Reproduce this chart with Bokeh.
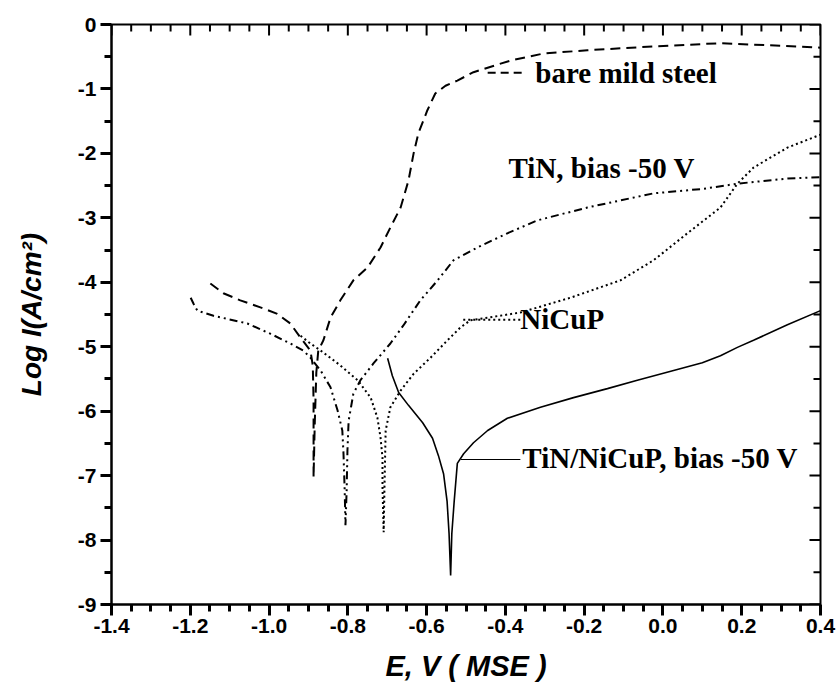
from bokeh.plotting import figure
from bokeh.models import (FixedTicker, PrintfTickFormatter, Range1d, ColumnDataSource,
                          LabelSet)
from bokeh.embed import file_html
from bokeh.resources import INLINE

# ---- data ----
x_ticks = [-1.4, -1.2, -1.0, -0.8, -0.6, -0.4, -0.2, 0.0, 0.2, 0.4]
y_ticks = [0, -1, -2, -3, -4, -5, -6, -7, -8, -9]
x_minor_per = 4   # minor divisions between x majors
y_minor_per = 2

steel_E = [-1.149, -1.116, -1.073, -1.022, -0.979, -0.946, -0.920, -0.895, -0.889, -0.887,
           -0.887, -0.887, -0.884, -0.880, -0.875, -0.862, -0.844, -0.819, -0.786, -0.750,
           -0.717, -0.692, -0.666, -0.646, -0.633, -0.621, -0.598, -0.578, -0.552, -0.522,
           -0.481, -0.445, -0.387, -0.303, -0.192, -0.024, 0.146, 0.298, 0.400]
steel_L = [-4.02, -4.17, -4.28, -4.39, -4.49, -4.64, -4.86, -5.06, -5.29, -5.83,
           -6.46, -7.03, -6.20, -5.40, -5.06, -4.90, -4.55, -4.28, -3.97, -3.77,
           -3.46, -3.15, -2.84, -2.42, -2.00, -1.69, -1.33, -1.07, -0.95, -0.87,
           -0.74, -0.67, -0.56, -0.45, -0.40, -0.34, -0.29, -0.33, -0.36]

tin_E = [-1.199, -1.192, -1.182, -1.141, -1.055, -0.996, -0.946, -0.913, -0.895, -0.869,
         -0.844, -0.826, -0.814, -0.811, -0.808, -0.806, -0.803, -0.801, -0.798, -0.786,
         -0.768, -0.735, -0.692, -0.659, -0.616, -0.572, -0.532, -0.471, -0.395, -0.319,
         -0.192, -0.024, 0.103, 0.189, 0.316, 0.400]
tin_L = [-4.24, -4.33, -4.44, -4.52, -4.64, -4.80, -4.95, -5.06, -5.17, -5.37,
         -5.63, -5.99, -6.30, -6.66, -7.23, -7.77, -7.23, -6.61, -6.15, -5.73,
         -5.52, -5.26, -4.95, -4.67, -4.28, -3.97, -3.66, -3.46, -3.24, -3.04,
         -2.84, -2.62, -2.55, -2.47, -2.39, -2.37]

nicup_E = [-0.920, -0.895, -0.869, -0.819, -0.775, -0.742, -0.725, -0.717, -0.712, -0.712,
           -0.709, -0.707, -0.704, -0.692, -0.666, -0.633, -0.590, -0.547, -0.514, -0.489,
           -0.362, -0.235, -0.108, -0.024, 0.062, 0.146, 0.189, 0.230, 0.316, 0.400]
nicup_L = [-4.83, -4.95, -5.06, -5.29, -5.52, -5.79, -6.10, -6.41, -6.72, -7.18,
           -7.88, -7.18, -6.30, -5.94, -5.68, -5.42, -5.17, -4.90, -4.70, -4.59,
           -4.47, -4.24, -3.97, -3.66, -3.24, -2.84, -2.47, -2.22, -1.91, -1.71]

coat_E = [-0.699, -0.687, -0.671, -0.646, -0.610, -0.585, -0.570, -0.557, -0.548, -0.543,
          -0.539, -0.536, -0.530, -0.522, -0.506, -0.481, -0.445, -0.395, -0.311, -0.227,
          -0.141, -0.065, 0.020, 0.100, 0.146, 0.189, 0.230, 0.316, 0.400]
coat_L = [-5.18, -5.45, -5.71, -5.91, -6.18, -6.42, -6.69, -6.97, -7.40, -7.90,
          -8.55, -7.90, -7.40, -6.81, -6.66, -6.49, -6.30, -6.11, -5.94, -5.79,
          -5.65, -5.52, -5.38, -5.25, -5.14, -5.01, -4.90, -4.66, -4.44]

# curve labels and their leader lines
label_text = ["bare mild steel", "TiN, bias -50 V", "NiCuP", "TiN/NiCuP, bias -50 V"]
label_E = [-0.324, -0.392, -0.362, -0.357]
label_L = [-0.75, -2.22, -4.57, -6.72]

steel_lead_E = [-0.445, -0.354]
steel_lead_L = [-0.75, -0.75]
nicup_lead_E = [-0.507, -0.362]
nicup_lead_L = [-4.58, -4.58]
coat_lead_E = [-0.513, -0.362]
coat_lead_L = [-6.75, -6.75]

FONT = "Liberation Sans"
FRAME_W, FRAME_H = 709, 580
X0, X1 = x_ticks[0], x_ticks[-1]
Y0, Y1 = y_ticks[-1], y_ticks[0]


def minor_positions(majors, per):
    out = []
    for a, b in zip(majors[:-1], majors[1:]):
        step = (b - a) / per
        out += [a + step * k for k in range(1, per)]
    return out


x_minor = minor_positions(x_ticks, x_minor_per)
y_minor = minor_positions(y_ticks, y_minor_per)

p = figure(width=836, height=684, output_backend="svg", toolbar_location=None,
           x_range=Range1d(X0, X1), y_range=Range1d(Y0, Y1),
           min_border_left=111, min_border_right=16, min_border_top=24,
           min_border_bottom=80)
p.frame_width = FRAME_W
p.frame_height = FRAME_H
p.xgrid.grid_line_color = None
p.ygrid.grid_line_color = None
p.outline_line_color = "black"
p.outline_line_width = 2

p.xaxis.ticker = FixedTicker(ticks=x_ticks, minor_ticks=x_minor)
p.yaxis.ticker = FixedTicker(ticks=y_ticks, minor_ticks=y_minor)
p.xaxis.formatter = PrintfTickFormatter(format="%.1f")
p.yaxis.formatter = PrintfTickFormatter(format="%d")

for axes in (p.xaxis, p.yaxis):
    axes.axis_line_width = 2
    axes.axis_line_color = "black"
    axes.major_tick_line_color = "black"
    axes.minor_tick_line_color = "black"
    axes.major_tick_line_width = 3
    axes.minor_tick_line_width = 3
    axes.major_tick_out = 11
    axes.minor_tick_out = 7
    axes.major_tick_in = 0
    axes.minor_tick_in = 0
    axes.major_label_text_font = FONT
    axes.major_label_text_font_style = "bold"
    axes.major_label_text_font_size = "21px"
    axes.major_label_text_color = "black"
    axes.axis_label_text_font = FONT
    axes.axis_label_text_font_style = "bold italic"
    axes.axis_label_text_color = "black"

p.xaxis.major_label_standoff = 3
p.yaxis.major_label_standoff = 4
p.xaxis.axis_label = "E, V ( MSE )"
p.yaxis.axis_label = "Log I(A/cm²)"
p.xaxis.axis_label_text_font_size = "29px"
p.yaxis.axis_label_text_font_size = "28px"
p.xaxis.axis_label_standoff = 14
p.yaxis.axis_label_standoff = 28

# inward ticks on the top and right frame edges, derived from the tick lists
dy_major = 11 * (Y1 - Y0) / FRAME_H
dy_minor = 7 * (Y1 - Y0) / FRAME_H
dx_major = 11 * (X1 - X0) / FRAME_W
dx_minor = 7 * (X1 - X0) / FRAME_W
p.segment(x0=x_ticks, y0=[Y1] * len(x_ticks), x1=x_ticks, y1=[Y1 - dy_major] * len(x_ticks),
          line_color="black", line_width=2)
p.segment(x0=x_minor, y0=[Y1] * len(x_minor), x1=x_minor, y1=[Y1 - dy_minor] * len(x_minor),
          line_color="black", line_width=2)
p.segment(x0=[X1] * len(y_ticks), y0=y_ticks, x1=[X1 - dx_major] * len(y_ticks), y1=y_ticks,
          line_color="black", line_width=2)
p.segment(x0=[X1] * len(y_minor), y0=y_minor, x1=[X1 - dx_minor] * len(y_minor), y1=y_minor,
          line_color="black", line_width=2)

# curves
p.line(steel_E, steel_L, line_color="black", line_width=2, line_dash="10 6")
p.line(tin_E, tin_L, line_color="black", line_width=2, line_dash="8 4 2 4 2 4")
p.line(nicup_E, nicup_L, line_color="black", line_width=2, line_dash="2 3")
p.line(coat_E, coat_L, line_color="black", line_width=1.6)

# leader lines
p.line(steel_lead_E, steel_lead_L, line_color="black", line_width=2, line_dash="8 5")
p.line(nicup_lead_E, nicup_lead_L, line_color="black", line_width=2, line_dash="2 3")
p.line(coat_lead_E, coat_lead_L, line_color="black", line_width=1.2)

src = ColumnDataSource(dict(x=label_E, y=label_L, t=label_text))
labels = LabelSet(x="x", y="y", text="t", source=src, text_font=FONT,
                  text_font_style="bold", text_font_size="29px", text_color="black",
                  text_align="left", text_baseline="middle")
p.add_layout(labels)

open("out.html", "w").write(file_html(p, INLINE))
